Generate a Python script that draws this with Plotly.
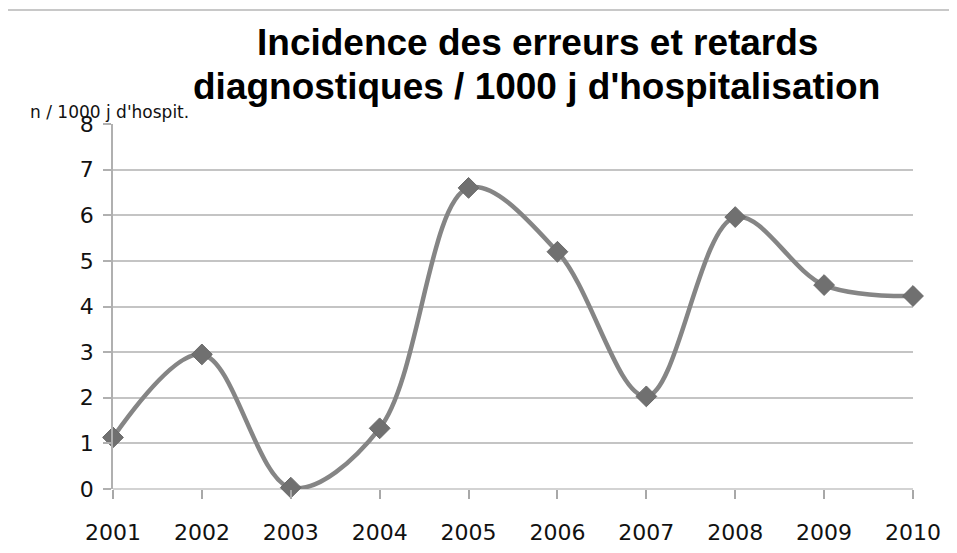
import plotly.graph_objects as go

years = [2001, 2002, 2003, 2004, 2005, 2006, 2007, 2008, 2009, 2010]
incidence = [1.13, 2.95, 0.03, 1.33, 6.6, 5.2, 2.03, 5.96, 4.47, 4.23]
y_ticks = [0, 1, 2, 3, 4, 5, 6, 7, 8]

title_lines = ["Incidence des erreurs et retards",
               "diagnostiques / 1000 j d'hospitalisation"]
y_label = "n / 1000 j d'hospit."

fig = go.Figure()
fig.add_trace(go.Scatter(
    x=years, y=incidence, mode="lines+markers",
    line=dict(color="#858585", width=4.5, shape="spline", smoothing=1.0),
    marker=dict(symbol="diamond", size=16, color="#707070",
                line=dict(color="#6a6a6a", width=1)),
    cliponaxis=False, showlegend=False,
))

fig.update_layout(
    width=949, height=545,
    margin=dict(l=105, r=44, t=116, b=64),
    paper_bgcolor="white", plot_bgcolor="white",
    font=dict(family="DejaVu Sans", color="#111111"),
    xaxis=dict(
        range=[2001, 2010], tickvals=years, ticktext=[str(y) for y in years],
        showgrid=False, zeroline=False, showline=False, automargin=False,
        ticks="outside", ticklen=9, tickwidth=1.5, tickcolor="#a8a8a8",
        tickfont=dict(size=22, family="DejaVu Sans", color="#111111"),
        ticklabelstandoff=15,
    ),
    yaxis=dict(
        range=[0, 8], tickvals=y_ticks, automargin=False,
        showgrid=True, gridcolor="#c4c4c4", gridwidth=1.5,
        zeroline=False, showline=True, linecolor="#b0b0b0", linewidth=1.5,
        ticks="outside", ticklen=8, tickwidth=1.5, tickcolor="#b0b0b0",
        tickfont=dict(size=22, family="DejaVu Sans", color="#111111"),
        ticklabelstandoff=5,
    ),
    annotations=[
        dict(text="<b>" + title_lines[0] + "</b>", xref="paper", yref="paper",
             x=(537 - 113) / 800, y=(489 - 42) / 365,
             xanchor="center", yanchor="middle", showarrow=False,
             font=dict(family="Liberation Sans", size=37, color="#000000")),
        dict(text="<b>" + title_lines[1] + "</b>", xref="paper", yref="paper",
             x=(536 - 113) / 800, y=(489 - 86) / 365,
             xanchor="center", yanchor="middle", showarrow=False,
             font=dict(family="Liberation Sans", size=37, color="#000000")),
        dict(text=y_label, xref="paper", yref="paper",
             x=(28 - 113) / 800, y=(489 - 124) / 365,
             xanchor="left", yanchor="bottom", showarrow=False,
             font=dict(family="DejaVu Sans", size=17, color="#111111")),
    ],
    shapes=[
        dict(type="rect", xref="paper", yref="paper",
             x0=(7 - 113) / 800, x1=(975 - 113) / 800,
             y0=(489 - 580) / 365, y1=(489 - 10) / 365,
             line=dict(color="#c8c8c8", width=2), layer="below"),
        dict(type="line", xref="paper", yref="paper",
             x0=0, x1=1, y0=0, y1=0,
             line=dict(color="#c4c4c4", width=1.5), layer="below"),
    ],
)

fig.write_html("out.html")
